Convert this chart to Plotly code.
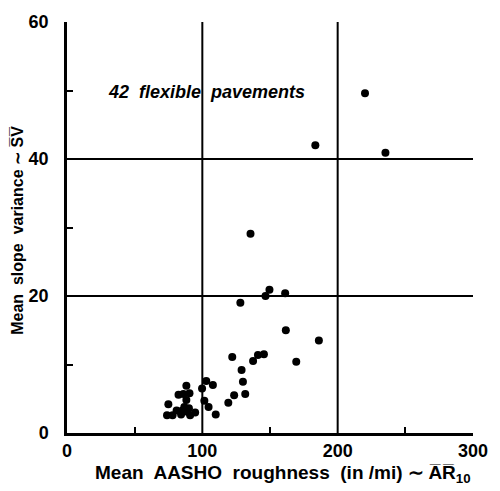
import plotly.graph_objects as go

# Mean AASHO roughness (in/mi) and mean slope variance for 42 flexible pavements
roughness = [
    220.2, 183.5, 235.3, 135.6, 149.6, 146.7, 161.2, 128.1, 161.7, 186.1,
    122.1, 141.1, 145.5, 137.5, 169.4, 129.0, 130.0, 131.7, 123.5, 119.2,
    102.9, 107.8, 99.8, 101.5, 104.6, 109.9, 88.2, 82.4, 86.0, 88.2,
    74.9, 86.7, 90.1, 85.3, 73.9, 78.0, 84.3, 88.9, 94.7, 90.5,
    91.0, 81.0,
]
slope_variance = [
    49.6, 42.0, 40.9, 29.1, 20.9, 20.0, 20.4, 19.0, 15.0, 13.5,
    11.1, 11.4, 11.5, 10.5, 10.4, 9.2, 7.5, 5.7, 5.5, 4.4,
    7.6, 7.0, 6.5, 4.7, 3.8, 2.7, 6.9, 5.6, 5.7, 4.8,
    4.2, 3.8, 3.6, 3.3, 2.6, 2.6, 2.7, 3.1, 3.0, 5.8,
    2.6, 3.3,
]

x_ticks = [0, 100, 200, 300]
x_minor_ticks = [50, 150, 250]
y_ticks = [0, 20, 40, 60]
y_minor_ticks = [10, 30, 50]
x_grid = [100, 200]
y_grid = [20, 40]

fig = go.Figure()
fig.add_trace(go.Scatter(
    x=roughness, y=slope_variance, mode="markers",
    marker=dict(color="black", size=8, line=dict(width=0)),
    hoverinfo="x+y",
))

tick_font = dict(family="Liberation Sans", size=18, color="black", weight="bold")

axis_common = dict(
    tickmode="array", ticks="", showline=True, linecolor="black", linewidth=2.5,
    showgrid=False, zeroline=False, tickfont=tick_font, fixedrange=True,
)

fig.update_layout(
    width=500, height=491,
    margin=dict(l=67, r=19, t=16, b=58),
    paper_bgcolor="white", plot_bgcolor="white",
    showlegend=False,
    xaxis=dict(
        range=[0, 300], tickvals=x_ticks,
        minor=dict(tickmode="array", tickvals=x_minor_ticks, ticks="inside",
                   ticklen=6, tickwidth=2, tickcolor="black", showgrid=False),
        **axis_common,
    ),
    yaxis=dict(
        range=[0, 60], tickvals=y_ticks, ticklabelstandoff=12,
        minor=dict(tickmode="array", tickvals=y_minor_ticks, ticks="inside",
                   ticklen=6, tickwidth=2, tickcolor="black", showgrid=False),
        **axis_common,
    ),
)

# grid lines at the inner ticks only (no frame on top or right)
for gx in x_grid:
    fig.add_shape(type="line", xref="x", yref="paper", x0=gx, x1=gx, y0=0, y1=1,
                  line=dict(color="black", width=2), layer="below")
for gy in y_grid:
    fig.add_shape(type="line", xref="paper", yref="y", x0=0, x1=1, y0=gy, y1=gy,
                  line=dict(color="black", width=2), layer="below")

fig.add_annotation(
    x=103.4, y=49.8, xref="x", yref="y", showarrow=False,
    text="<b><i>42  flexible  pavements</i></b>",
    font=dict(family="Liberation Sans", size=18, color="black"),
)
fig.add_annotation(
    x=0.533, y=-0.10, xref="paper", yref="paper", showarrow=False,
    xanchor="center", yanchor="middle",
    text="<b>Mean  AASHO  roughness  (in /mi) ∼ A\u0305R\u0305<sub>10</sub></b>",
    font=dict(family="Liberation Sans", size=19, color="black"),
)
fig.add_annotation(
    x=-0.121, y=0.494, xref="paper", yref="paper", showarrow=False,
    xanchor="center", yanchor="middle", textangle=-90,
    text="<b>Mean  slope  variance ∼ S\u0305V\u0305</b>",
    font=dict(family="Liberation Sans", size=16, color="black"),
)

fig.write_html("out.html")
